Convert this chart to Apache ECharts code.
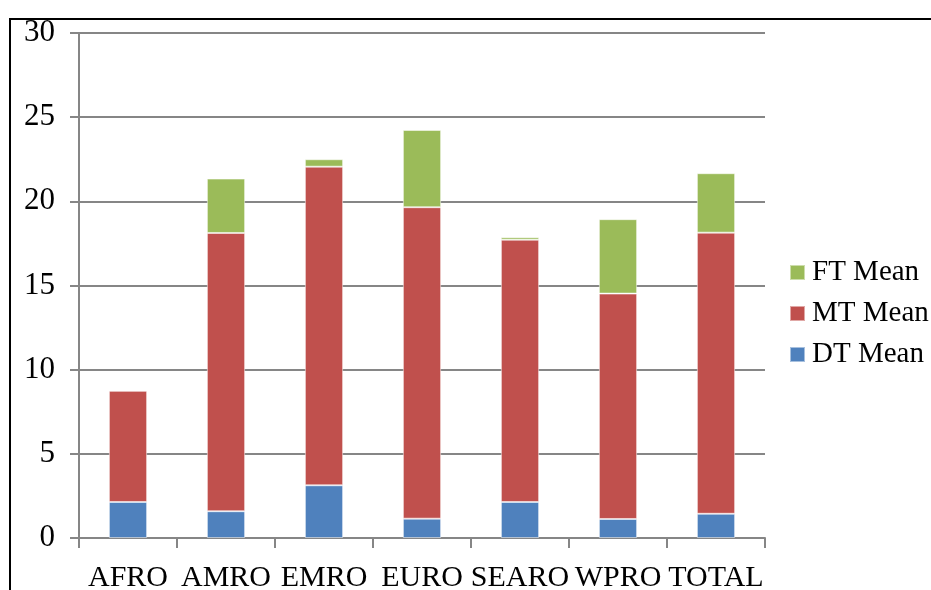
<!DOCTYPE html>
<html>
<head>
<meta charset="utf-8">
<script src="https://cdn.jsdelivr.net/npm/echarts@6/dist/echarts.min.js"></script>
<style>
html,body{margin:0;padding:0;background:#fff;overflow:hidden;}
#chart{width:931px;height:590px;}
</style>
</head>
<body>
<div id="chart"></div>
<script>
var categories = ['AFRO', 'AMRO', 'EMRO', 'EURO', 'SEARO', 'WPRO', 'TOTAL'];
var dtMean = [2.14, 1.59, 3.13, 1.15, 2.14, 1.13, 1.44];
var mtMean = [6.61, 16.53, 18.93, 18.50, 15.58, 13.39, 16.70];
var ftMean = [0, 3.23, 0.44, 4.59, 0.15, 4.42, 3.53];
var yTicks = [0, 5, 10, 15, 20, 25, 30];

var font = '"Liberation Serif", "Times New Roman", serif';
var chart = echarts.init(document.getElementById('chart'));
var barStyle = function (c) {
  return { color: c, borderColor: 'rgba(255,255,255,0.5)', borderWidth: 1 };
};
chart.setOption({
  animation: false,
  backgroundColor: '#fff',
  graphic: [{
    type: 'rect',
    shape: { x: 10, y: 19, width: 1000, height: 1000 },
    style: { fill: 'none', stroke: '#000', lineWidth: 2 },
    silent: true
  }],
  grid: { left: 79, right: 166, top: 33, bottom: 52, containLabel: false, outerBoundsMode: 'none' },
  legend: {
    orient: 'vertical',
    left: 784,
    top: 253,
    itemWidth: 15,
    itemHeight: 15,
    itemGap: 12,
    icon: 'rect',
    data: ['FT Mean', 'MT Mean', 'DT Mean'],
    textStyle: { fontFamily: font, fontSize: 29, color: '#000', padding: [0, 0, 0, 2] }
  },
  xAxis: {
    type: 'category',
    data: categories,
    axisLine: { lineStyle: { color: '#868686', width: 2 } },
    axisTick: { show: true, length: 10, alignWithLabel: false, lineStyle: { color: '#868686', width: 2 } },
    axisLabel: { fontFamily: font, fontSize: 30, color: '#000', margin: 25, interval: 0 }
  },
  yAxis: {
    type: 'value',
    min: 0,
    max: 30,
    interval: 5,
    axisLine: { show: true, lineStyle: { color: '#868686', width: 2 } },
    axisTick: { show: true, length: 9, lineStyle: { color: '#868686', width: 2 } },
    splitLine: { lineStyle: { color: '#868686', width: 2 } },
    axisLabel: {
      fontFamily: font, fontSize: 31, color: '#000', margin: 24,
      formatter: function (v) { return yTicks.indexOf(v) >= 0 ? String(v) : ''; }
    }
  },
  series: [
    { name: 'DT Mean', type: 'bar', stack: 's', data: dtMean, barWidth: '39%', itemStyle: barStyle('#4F81BD') },
    { name: 'MT Mean', type: 'bar', stack: 's', data: mtMean, barWidth: '39%', itemStyle: barStyle('#C0504D') },
    { name: 'FT Mean', type: 'bar', stack: 's', data: ftMean, barWidth: '39%', itemStyle: barStyle('#9BBB59') }
  ]
});
</script>
</body>
</html>
